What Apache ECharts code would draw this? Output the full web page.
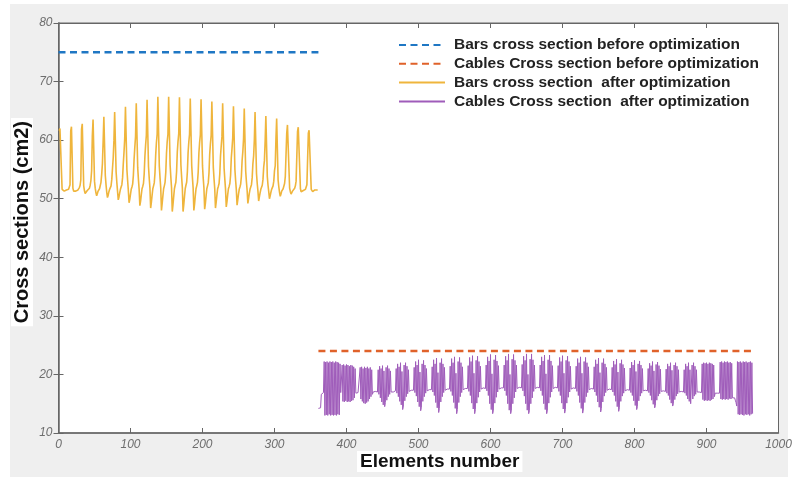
<!DOCTYPE html>
<html>
<head>
<meta charset="utf-8">
<script src="https://cdn.jsdelivr.net/npm/echarts@6/dist/echarts.min.js"></script>
<style>
  html, body { margin: 0; padding: 0; background: #fff; }
  #main { width: 792px; height: 477px; }
</style>
</head>
<body>
<div id="main"></div>
<script>
// legend names
var seriesNames = [
  'Bars cross section before optimization',
  'Cables Cross section before optimization',
  'Bars cross section  after optimization',
  'Cables Cross section  after optimization'
];

// values before optimization, element ranges
var barsBefore = 75;
var barsRange = [0, 361];
var cablesBefore = 24;
var cablesRange = [361, 966];

// bars after optimization, elements 1..360 (one row = 15 elements)
var barsAfter = [
  [61.6, 62.0, 62.0, 61.8, 51.6, 51.5, 51.4, 51.3, 51.4, 51.5, 51.5, 51.5, 51.5, 51.6, 51.9],
  [52.4, 61.6, 62.3, 62.1, 51.8, 51.3, 51.1, 51.0, 51.3, 51.5, 51.5, 51.5, 51.6, 51.9, 52.3],
  [53.2, 61.9, 62.8, 62.5, 52.2, 51.4, 50.9, 50.8, 51.1, 51.4, 51.5, 51.6, 51.8, 52.3, 53.1],
  [54.8, 60.8, 63.5, 63.2, 53.0, 51.8, 51.0, 50.5, 50.9, 51.3, 51.5, 51.7, 52.0, 52.8, 54.2],
  [56.0, 59.8, 64.0, 63.7, 54.0, 52.4, 51.1, 50.2, 50.6, 51.2, 51.6, 51.8, 52.2, 53.3, 55.2],
  [57.0, 60.0, 64.8, 64.5, 54.6, 52.8, 51.3, 49.8, 50.3, 51.0, 51.6, 51.9, 52.4, 53.6, 56.0],
  [58.0, 60.3, 65.7, 65.4, 55.0, 53.1, 51.4, 49.3, 49.9, 50.8, 51.6, 52.0, 52.5, 54.0, 56.8],
  [58.8, 60.6, 66.3, 66.1, 55.3, 53.3, 51.6, 48.8, 49.6, 50.7, 51.7, 52.1, 52.6, 54.2, 57.2],
  [59.2, 60.8, 66.9, 66.7, 55.5, 53.5, 51.8, 48.4, 49.4, 50.6, 51.7, 52.2, 52.7, 54.4, 57.5],
  [59.6, 61.0, 67.4, 67.2, 55.6, 53.6, 51.8, 48.0, 49.2, 50.5, 51.7, 52.2, 52.8, 54.5, 57.8],
  [59.8, 61.0, 67.4, 67.2, 55.8, 53.7, 51.9, 47.8, 49.0, 50.4, 51.7, 52.3, 52.8, 54.6, 58.0],
  [59.8, 61.1, 67.3, 67.1, 55.8, 53.7, 51.9, 47.8, 49.0, 50.4, 51.7, 52.3, 52.8, 54.6, 57.9],
  [59.7, 61.0, 67.1, 66.9, 55.7, 53.6, 51.8, 48.0, 49.1, 50.5, 51.7, 52.2, 52.8, 54.5, 57.8],
  [59.6, 60.9, 67.0, 66.8, 55.6, 53.5, 51.8, 48.2, 49.2, 50.5, 51.7, 52.2, 52.7, 54.4, 57.6],
  [59.4, 60.8, 66.6, 66.4, 55.4, 53.4, 51.7, 48.4, 49.4, 50.6, 51.7, 52.1, 52.6, 54.2, 57.3],
  [59.0, 60.6, 66.3, 66.1, 55.2, 53.3, 51.6, 48.6, 49.5, 50.7, 51.7, 52.1, 52.6, 54.0, 57.0],
  [58.6, 60.4, 65.8, 65.6, 55.0, 53.1, 51.5, 48.9, 49.8, 50.8, 51.6, 52.0, 52.5, 53.8, 56.5],
  [58.0, 60.2, 65.4, 65.2, 54.7, 52.9, 51.4, 49.2, 50.0, 50.9, 51.6, 51.9, 52.4, 53.6, 56.0],
  [57.3, 60.0, 64.8, 64.6, 54.3, 52.6, 51.3, 49.6, 50.3, 51.0, 51.6, 51.9, 52.3, 53.3, 55.4],
  [56.5, 59.8, 64.1, 63.9, 53.8, 52.3, 51.2, 50.0, 50.5, 51.1, 51.6, 51.8, 52.2, 53.0, 54.8],
  [55.6, 60.2, 63.7, 63.5, 53.2, 52.0, 51.1, 50.4, 50.8, 51.3, 51.5, 51.7, 52.0, 52.6, 53.8],
  [54.0, 61.2, 62.6, 62.5, 62.3, 51.8, 51.2, 50.8, 51.0, 51.3, 51.5, 51.6, 51.8, 52.2, 53.0],
  [53.0, 61.5, 62.2, 62.1, 62.0, 51.7, 51.2, 51.0, 51.2, 51.4, 51.5, 51.5, 51.6, 51.9, 52.4],
  [52.2, 61.2, 61.7, 61.7, 61.6, 51.6, 51.4, 51.2, 51.3, 51.4, 51.5, 51.5, 51.5, 51.5, 51.5]
];

// cables after optimization, elements 361..964
var cablesFirst = 361;
var cablesAfter = [
  [14.2, 14.1, 14.2, 14.3, 16.6, 16.8, 16.8, 16.9],
  [22.2, 13.0, 22.1, 13.1, 22.2, 13.0, 22.0, 13.2, 22.2, 13.0, 22.1, 13.1, 22.2, 13.0, 22.0, 13.1, 22.2, 13.0, 22.1, 13.2, 22.0, 13.1, 21.8, 16.9],
  [17.0, 21.6, 15.4, 21.7, 15.3, 21.5, 15.5, 21.7, 15.3, 21.6, 15.4, 21.4, 15.3, 21.6, 15.5, 21.5, 15.6, 21.3, 16.0, 21.0, 16.8, 17.0, 17.0, 16.9, 17.0],
  [17.0, 21.2, 15.8, 21.3, 15.4, 21.0, 15.1, 21.3, 15.0, 21.1, 15.2, 21.3, 15.4, 21.0, 15.8, 21.2, 16.2, 20.8, 16.6, 17.0, 17.0, 17.0, 17.1, 17.0, 17.0],
  [17.0, 20.8, 16.6, 21.4, 16.0, 21.0, 15.3, 21.5, 14.8, 20.6, 14.5, 15.2, 21.2, 15.6, 21.5, 16.2, 21.0, 16.6, 20.6, 17.0, 17.1, 17.1, 17.0, 17.1, 17.2],
  [17.2, 21.0, 16.8, 21.8, 16.2, 21.3, 15.4, 22.0, 14.8, 20.5, 14.0, 14.6, 21.6, 15.5, 22.0, 16.2, 21.4, 16.7, 20.8, 17.1, 17.2, 17.2, 17.3, 17.2, 17.3],
  [17.3, 21.2, 16.9, 22.2, 16.3, 21.6, 15.3, 22.5, 14.5, 20.4, 13.8, 14.4, 21.8, 15.4, 22.4, 16.2, 21.6, 16.8, 21.0, 17.2, 17.3, 17.3, 17.4, 17.3, 17.4],
  [17.4, 21.3, 17.0, 22.5, 16.4, 21.8, 15.2, 22.8, 14.3, 20.3, 13.5, 14.2, 22.0, 15.3, 22.7, 16.2, 21.8, 16.9, 21.2, 17.3, 17.4, 17.4, 17.5, 17.4, 17.5],
  [17.5, 21.4, 17.1, 22.7, 16.4, 22.0, 15.2, 23.0, 14.2, 20.2, 13.3, 14.0, 22.2, 15.2, 22.9, 16.2, 22.0, 16.9, 21.3, 17.4, 17.5, 17.5, 17.6, 17.5, 17.6],
  [17.6, 21.5, 17.1, 22.9, 16.4, 22.2, 15.1, 23.2, 14.1, 20.2, 13.3, 14.0, 22.4, 15.1, 23.1, 16.1, 22.2, 17.0, 21.4, 17.5, 17.6, 17.6, 17.7, 17.6, 17.7],
  [17.6, 21.6, 17.2, 23.0, 16.4, 22.3, 15.0, 23.4, 14.0, 20.1, 13.3, 13.9, 22.5, 15.1, 23.3, 16.1, 22.3, 17.0, 21.5, 17.5, 17.6, 17.7, 17.7, 17.6, 17.7],
  [17.7, 21.6, 17.2, 23.1, 16.4, 22.4, 15.0, 23.5, 13.9, 20.0, 13.3, 13.9, 22.6, 15.0, 23.4, 16.0, 22.4, 17.0, 21.6, 17.6, 17.7, 17.7, 17.8, 17.7, 17.8],
  [17.7, 21.7, 17.2, 23.1, 16.3, 22.4, 15.0, 23.5, 13.9, 20.0, 13.3, 13.8, 22.6, 15.0, 23.5, 16.0, 22.5, 17.1, 21.6, 17.6, 17.7, 17.8, 17.8, 17.7, 17.8],
  [17.7, 21.6, 17.2, 23.0, 16.4, 22.3, 15.0, 23.3, 14.0, 20.1, 13.3, 13.9, 22.5, 15.1, 23.3, 16.1, 22.3, 17.0, 21.5, 17.6, 17.7, 17.7, 17.8, 17.7, 17.7],
  [17.7, 21.5, 17.1, 22.9, 16.4, 22.2, 15.1, 23.2, 14.1, 20.2, 13.4, 14.0, 22.4, 15.1, 23.1, 16.1, 22.2, 17.0, 21.4, 17.5, 17.6, 17.7, 17.7, 17.6, 17.6],
  [17.6, 21.4, 17.1, 22.7, 16.4, 22.0, 15.2, 23.0, 14.2, 20.2, 13.4, 14.1, 22.2, 15.2, 22.9, 16.2, 22.0, 16.9, 21.3, 17.4, 17.5, 17.6, 17.6, 17.5, 17.5],
  [17.5, 21.3, 17.0, 22.5, 16.4, 21.8, 15.3, 22.8, 14.4, 20.3, 13.6, 14.2, 22.0, 15.3, 22.7, 16.3, 21.8, 16.9, 21.2, 17.3, 17.4, 17.5, 17.5, 17.4, 17.4],
  [17.4, 21.2, 17.0, 22.3, 16.4, 21.7, 15.4, 22.6, 14.5, 20.4, 13.7, 14.3, 21.9, 15.4, 22.5, 16.3, 21.7, 16.8, 21.1, 17.2, 17.3, 17.4, 17.4, 17.3, 17.3],
  [17.3, 21.1, 16.9, 22.1, 16.4, 21.6, 15.5, 22.4, 14.7, 20.5, 14.0, 14.5, 21.8, 15.5, 22.3, 16.3, 21.6, 16.8, 21.0, 17.2, 17.2, 17.3, 17.3, 17.2, 17.2],
  [17.2, 21.0, 16.9, 21.9, 16.4, 21.5, 15.6, 22.2, 14.9, 20.6, 14.3, 14.7, 21.7, 15.6, 22.1, 16.3, 21.5, 16.7, 20.9, 17.1, 17.1, 17.2, 17.2, 17.1, 17.1],
  [17.1, 20.9, 16.8, 21.8, 16.4, 21.4, 15.7, 22.0, 15.1, 20.7, 14.6, 15.0, 21.6, 15.7, 22.0, 16.3, 21.4, 16.7, 20.8, 17.0, 17.0, 17.1, 17.1, 17.0, 17.0],
  [17.0, 20.8, 16.8, 21.8, 16.4, 21.4, 15.8, 22.0, 15.4, 20.8, 15.0, 15.3, 21.6, 15.8, 22.0, 16.3, 21.4, 16.6, 20.8, 17.0, 16.9, 17.0, 17.0, 16.9, 16.9],
  [16.9, 21.8, 15.7, 22.0, 15.5, 21.9, 15.6, 22.0, 15.5, 21.8, 15.6, 22.0, 15.5, 21.9, 15.7, 21.8, 15.8, 21.6, 16.2, 16.8, 16.8, 16.9, 16.8, 16.8, 16.8],
  [16.8, 22.1, 15.8, 22.2, 15.7, 22.0, 15.8, 22.2, 15.7, 22.1, 15.8, 22.2, 15.7, 22.0, 15.9, 22.1, 15.8, 21.9, 16.0, 16.2, 16.3, 16.0, 15.6, 15.2, 14.6],
  [22.2, 13.2, 22.1, 13.1, 22.2, 13.2, 22.0, 13.1, 22.2, 13.0, 22.1, 13.2, 22.2, 13.1, 22.0, 13.2, 22.1, 13.0, 22.2, 13.2, 22.0, 13.3]
];

// element number -> value pairs
function toPoints(rows, first) {
  var pts = [];
  var n = first;
  rows.forEach(function (row) {
    row.forEach(function (v) { pts.push([n, v]); n++; });
  });
  return pts;
}

var labelFont = { color: '#6e6e6e', fontSize: 12, fontStyle: 'italic', fontFamily: 'Liberation Sans Narrow, Liberation Sans, Arial' };

var myChart = echarts.init(document.getElementById('main'));
var option = {
  animation: false,
  backgroundColor: '#fff',
  graphic: [
    { type: 'rect', z: -10, shape: { x: 10, y: 4, width: 778, height: 473 }, style: { fill: '#efefef' } },
    { type: 'text', left: 11, top: 118, rotation: Math.PI / 2, z: 10,
      style: { text: 'Cross sections (cm2)', font: 'bold 20px Liberation Sans, Arial', fill: '#111', backgroundColor: '#fff', padding: [1, 3] } },
    { type: 'text', left: 357, top: 451, z: 10,
      style: { text: 'Elements number', font: 'bold 19px Liberation Sans, Arial', fill: '#111', backgroundColor: '#fff', padding: [1, 3] } }
  ],
  grid: {
    left: 58.5, right: 13.5, top: 23, bottom: 44,
    show: true, backgroundColor: '#fff', borderColor: '#666', borderWidth: 1,
    outerBoundsMode: 'none'
  },
  legend: {
    orient: 'vertical',
    left: 393, top: 32,
    itemWidth: 46, itemHeight: 16, itemGap: 2.8,
    data: seriesNames,
    itemStyle: { opacity: 0 },
    textStyle: { color: '#222', fontSize: 15.5, lineHeight: 16, fontWeight: 'bold', fontFamily: 'Liberation Sans, Arial', padding: [0, 0, 0, 4] }
  },
  xAxis: [{
    type: 'value', min: 0, max: 1000, interval: 100,
    axisLine: { show: true, onZero: false, lineStyle: { color: '#666', width: 1.5 } },
    axisTick: { inside: true, length: 5, lineStyle: { color: '#666' } },
    axisLabel: Object.assign({ margin: 6, formatter: function (v) { return String(v); } }, labelFont),
    splitLine: { show: false }
  }, {
    type: 'value', min: 0, max: 1000, interval: 100, position: 'top',
    axisLine: { show: true, lineStyle: { color: '#666' } },
    axisTick: { inside: true, length: 5, lineStyle: { color: '#666' } },
    axisLabel: { show: false },
    splitLine: { show: false }
  }],
  yAxis: [{
    type: 'value', min: 10, max: 80, interval: 10,
    axisLine: { show: true, onZero: false, lineStyle: { color: '#666', width: 1.5 } },
    axisTick: { inside: true, length: 5, lineStyle: { color: '#666' } },
    axisLabel: Object.assign({ margin: 6 }, labelFont),
    splitLine: { show: false }
  }, {
    type: 'value', min: 10, max: 80, interval: 10, position: 'right',
    axisLine: { show: true, lineStyle: { color: '#666' } },
    axisTick: { inside: true, length: 5, lineStyle: { color: '#666' } },
    axisLabel: { show: false },
    splitLine: { show: false }
  }],
  series: [{
    name: seriesNames[0], type: 'line', symbol: 'none', z: 3,
    data: [[barsRange[0], barsBefore], [barsRange[1], barsBefore]],
    lineStyle: { color: '#1f77c4', width: 2.6, type: [7, 4.5] },
    itemStyle: { color: '#1f77c4' }
  }, {
    name: seriesNames[1], type: 'line', symbol: 'none', z: 3,
    data: [[cablesRange[0], cablesBefore], [cablesRange[1], cablesBefore]],
    lineStyle: { color: '#e0622a', width: 2.6, type: [7, 4.5] },
    itemStyle: { color: '#e0622a' }
  }, {
    name: seriesNames[2], type: 'line', symbol: 'none', sampling: 'none',
    data: toPoints(barsAfter, 1),
    lineStyle: { color: '#efb53c', width: 1.6 },
    itemStyle: { color: '#efb53c' }
  }, {
    name: seriesNames[3], type: 'line', symbol: 'none', sampling: 'none',
    data: toPoints(cablesAfter, cablesFirst),
    lineStyle: { color: '#9f5cba', width: 1 },
    itemStyle: { color: '#9f5cba' }
  }]
};
myChart.setOption(option);
</script>
</body>
</html>
